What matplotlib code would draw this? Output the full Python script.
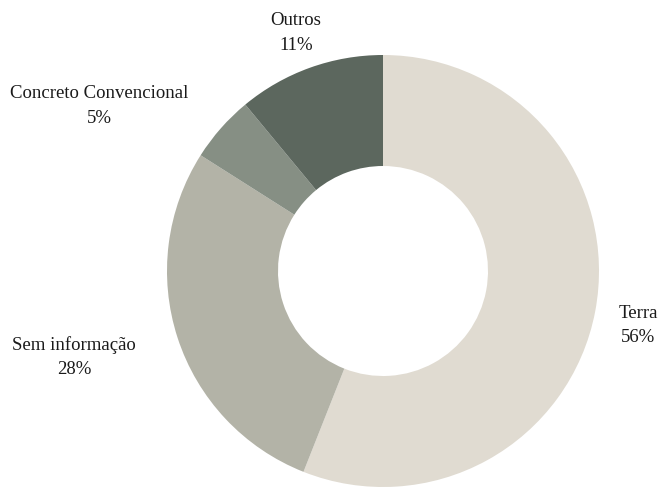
import matplotlib

matplotlib.use("Agg")
import matplotlib.pyplot as plt

categories = ["Terra", "Sem informação", "Concreto Convencional", "Outros"]
shares = [56, 28, 5, 11]
colors = ["#e0dbd1", "#b3b3a7", "#868f84", "#5c675e"]

# label anchor points (pixel space, y measured from the top, first line)
label_pos = [(638, 313), (74, 345), (99, 93), (296, 20)]

W, H = 659, 491
plt.rcParams["font.family"] = ["Liberation Serif", "DejaVu Serif"]

fig = plt.figure(figsize=(W / 100, H / 100), dpi=100)
ax = fig.add_axes([0, 0, 1, 1])

ax.pie(
    shares,
    colors=colors,
    radius=216,
    center=(383, H - 271),
    startangle=90,
    counterclock=False,
    wedgeprops=dict(width=111, linewidth=0),
    frame=True,
)
ax.set_xlim(0, W)
ax.set_ylim(0, H)
ax.set_aspect("equal")
ax.axis("off")

for name, val, (x, y) in zip(categories, shares, label_pos):
    ax.text(x, H - y, name, ha="center", va="center",
            fontsize=13.5, color="#1a1a1a")
    ax.text(x, H - y - 25, f"{val}%", ha="center", va="center",
            fontsize=13.5, color="#1a1a1a")

fig.savefig("out.png", dpi=100)
